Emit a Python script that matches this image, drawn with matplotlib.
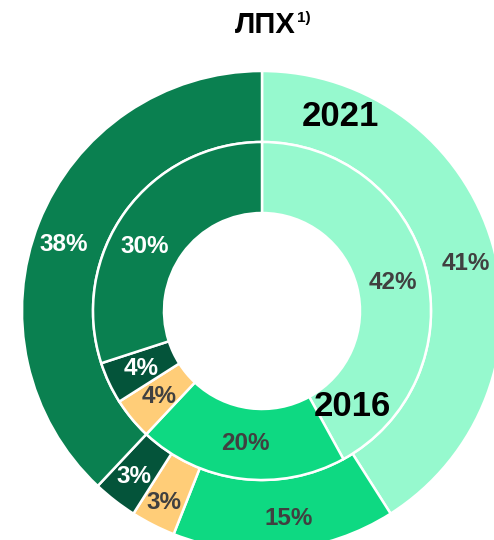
import numpy as np
import matplotlib
matplotlib.use("Agg")
import matplotlib.pyplot as plt

plt.rcParams['font.family'] = ['Liberation Sans', 'DejaVu Sans']

categories = ["A", "B", "C", "D", "E"]
outer_2021 = [41, 15, 3, 3, 38]
inner_2016 = [42, 20, 4, 4, 30]
colors = ["#96F9CE", "#0ED982", "#FFCD78", "#04543A", "#0A8050"]
text_colors = ["#404040", "#404040", "#404040", "white", "white"]

W, H = 494, 540
fig = plt.figure(figsize=(W / 100, H / 100), dpi=100)
ax = fig.add_axes([0, 0, 1, 1])

cx, cy = 262, H - 311
R_out, R_mid, R_in = 240, 169, 98

w_out, _ = ax.pie(outer_2021, radius=R_out, center=(cx, cy), colors=colors,
                  startangle=90, counterclock=False,
                  wedgeprops=dict(width=R_out - R_mid, edgecolor="white", linewidth=1.8))
w_in, _ = ax.pie(inner_2016, radius=R_mid, center=(cx, cy), colors=colors,
                 startangle=90, counterclock=False,
                 wedgeprops=dict(width=R_mid - R_in, edgecolor="white", linewidth=1.8))

ax.set_xlim(0, W)
ax.set_ylim(0, H)
ax.set_aspect("equal")
ax.axis("off")

def label_ring(wedges, values, r, nudges, rads=None):
    rads = rads or {}
    for i, (w, v) in enumerate(zip(wedges, values)):
        ang = np.deg2rad((w.theta1 + w.theta2) / 2 + nudges.get(i, 0))
        rr = r + rads.get(i, 0)
        ax.text(cx + rr * np.cos(ang), cy + rr * np.sin(ang), f"{v}%",
                ha="center", va="center", fontsize=17.5, fontweight="bold",
                color=text_colors[i])

label_ring(w_out, outer_2021, 209, {0: -3, 1: 2, 4: 3}, {2: 6})
label_ring(w_in, inner_2016, 134, {0: -2, 4: 7})

ax.text(340, H - 117, "2021", ha="center", va="center", fontsize=25, fontweight="bold", color="black")
ax.text(352, H - 407, "2016", ha="center", va="center", fontsize=25, fontweight="bold", color="black")

fig.text(296 / W, 1 - 25 / H, "ЛПХ", ha="right", va="center",
         fontsize=21, fontweight="bold", color="black")
fig.text(297 / W, 1 - 18 / H, "1)", ha="left", va="center",
         fontsize=11, fontweight="bold", color="black")

fig.savefig("out.png", dpi=100)
